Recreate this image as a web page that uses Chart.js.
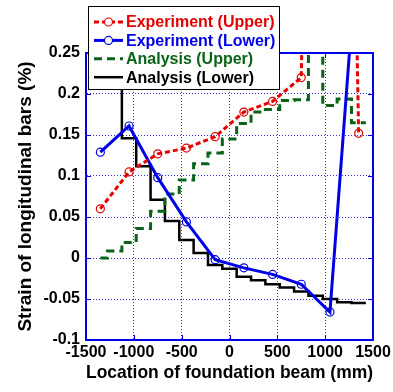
<!DOCTYPE html>
<html>
<head>
<meta charset="utf-8">
<script src="https://cdn.jsdelivr.net/npm/chart.js@4.4.0/dist/chart.umd.min.js"></script>
<style>
  body { margin: 0; background: #fff; }
</style>
</head>
<body>
<canvas id="myChart" width="393" height="392"></canvas>
<script>
// gauge positions (mm) and measured strains (%)
const expX = [-1350, -1050, -750, -450, -150, 150, 450, 750, 1050, 1350];
const expUpper = [0.060, 0.105, 0.127, 0.134, 0.148, 0.178, 0.191, 0.220, 2.0, 0.152];
const expLower = [0.129, 0.161, 0.098, 0.044, -0.002, -0.012, -0.020, -0.032, -0.066, 0.40];

// analysis: element edges (mm), one level per element (last one repeated at the end edge)
const anaX = [-1350, -1275, -1125, -975, -825, -675, -525, -375, -225, -75, 75, 225, 375, 525, 675, 825, 975, 1125, 1275, 1425];
const anaUpper = [0.000, 0.0085, 0.019, 0.036, 0.057, 0.078, 0.095, 0.115, 0.128, 0.145, 0.164, 0.178, 0.181, 0.192, 0.193, 0.32, 0.186, 0.194, 0.165, 0.165];
const anaLower = [0.30, 0.30, 0.146, 0.112, 0.071, 0.045, 0.022, 0.006, -0.0085, -0.013, -0.023, -0.027, -0.032, -0.036, -0.041, -0.046, -0.050, -0.054, -0.055, -0.055];

const xTicks = [-1500, -1000, -500, 0, 500, 1000, 1500];
const yTicks = [-0.1, -0.05, 0, 0.05, 0.1, 0.15, 0.2, 0.25];

const names = ["Experiment (Upper)", "Experiment (Lower)", "Analysis (Upper)", "Analysis (Lower)"];

const FONT = '"Liberation Sans", Arial, sans-serif';
const AXIS_BLUE = '#0000e8';

function pts(xs, ys) {
  return xs.map((x, i) => ({ x: x, y: ys[i] }));
}

// top/right frame and the short inward tick marks
const frame = {
  id: 'frame',
  beforeDatasetsDraw(chart) {
    const { ctx, chartArea: a, scales } = chart;
    ctx.save();
    ctx.strokeStyle = AXIS_BLUE;
    ctx.lineWidth = 2;
    ctx.beginPath();
    ctx.moveTo(a.left, a.top); ctx.lineTo(a.right, a.top); ctx.lineTo(a.right, a.bottom);
    ctx.stroke();
    ctx.lineWidth = 1;
    ctx.beginPath();
    yTicks.forEach(v => {
      const y = Math.round(scales.y.getPixelForValue(v)) + 0.5;
      ctx.moveTo(a.left, y); ctx.lineTo(a.left + 5, y);
      ctx.moveTo(a.right, y); ctx.lineTo(a.right - 5, y);
    });
    xTicks.forEach(v => {
      const x = Math.round(scales.x.getPixelForValue(v)) + 0.5;
      ctx.moveTo(x, a.bottom); ctx.lineTo(x, a.bottom - 5);
      ctx.moveTo(x, a.top); ctx.lineTo(x, a.top + 5);
    });
    ctx.stroke();
    ctx.restore();
  }
};

// boxed legend sitting over the top-left of the plot
const boxLegend = {
  id: 'boxLegend',
  afterDraw(chart) {
    const ctx = chart.ctx;
    ctx.save();
    ctx.fillStyle = '#fff';
    ctx.fillRect(88.5, 6.5, 191, 83);
    ctx.strokeStyle = '#000';
    ctx.lineWidth = 1;
    ctx.strokeRect(88.5, 6.5, 191, 83);
    ctx.font = 'bold 16px ' + FONT;
    ctx.textBaseline = 'middle';
    chart.data.datasets.forEach((ds, i) => {
      const y = 22 + i * 18.4;
      ctx.strokeStyle = ds.borderColor;
      ctx.lineWidth = ds.borderWidth;
      ctx.setLineDash(ds.borderDash || []);
      ctx.beginPath();
      ctx.moveTo(94, y); ctx.lineTo(123, y);
      ctx.stroke();
      ctx.setLineDash([]);
      if (ds.pointRadius) {
        ctx.fillStyle = '#fff';
        ctx.lineWidth = 1.2;
        ctx.beginPath();
        ctx.arc(108.5, y, ds.pointRadius, 0, Math.PI * 2);
        ctx.fill();
        ctx.stroke();
      }
      ctx.fillStyle = ds.borderColor;
      ctx.fillText(ds.label, 126, y + 1);
    });
    ctx.restore();
  }
};

onload = function () {
  new Chart("myChart", {
    type: "line",
    data: {
      datasets: [{
        label: names[0],
        data: pts(expX, expUpper),
        borderColor: '#e60000',
        borderWidth: 3,
        borderDash: [5, 3],
        pointRadius: 4,
        pointBorderWidth: 1.2,
        pointBackgroundColor: 'rgba(0,0,0,0)',
        pointBorderColor: '#e60000'
      }, {
        label: names[1],
        data: pts(expX, expLower),
        borderColor: '#0000e6',
        borderWidth: 3,
        pointRadius: 4,
        pointBorderWidth: 1.2,
        pointBackgroundColor: 'rgba(0,0,0,0)',
        pointBorderColor: '#0000e6'
      }, {
        label: names[2],
        data: pts(anaX, anaUpper),
        borderColor: '#0a6418',
        borderWidth: 3,
        borderDash: [8, 5],
        stepped: 'before',
        pointRadius: 0
      }, {
        label: names[3],
        data: pts(anaX, anaLower),
        borderColor: '#000',
        borderWidth: 2.5,
        stepped: 'before',
        pointRadius: 0
      }]
    },
    options: {
      responsive: false,
      animation: false,
      layout: { padding: { top: 53, right: 20, left: 0, bottom: 0 } },
      plugins: { legend: { display: false }, tooltip: { enabled: false } },
      scales: {
        x: {
          type: 'linear', min: -1500, max: 1500,
          afterBuildTicks: s => { s.ticks = xTicks.map(v => ({ value: v })); },
          afterFit: s => { s.height = 52; s.paddingLeft = 0; s.paddingRight = 0; },
          grid: { color: 'rgba(30,30,225,0.9)', lineWidth: 1, drawTicks: false },
          border: { color: AXIS_BLUE, width: 2, dash: [1, 2] },
          ticks: {
            color: '#000', padding: 3, maxRotation: 0, autoSkip: false,
            font: { family: FONT, size: 16, weight: 'bold' },
            callback: v => String(v)
          },
          title: {
            display: true, text: 'Location of foundation beam (mm)', color: '#000',
            font: { family: FONT, size: 19, weight: 'bold' },
            padding: { top: 0, bottom: 8 }
          }
        },
        y: {
          type: 'linear', min: -0.1, max: 0.25,
          afterBuildTicks: s => { s.ticks = yTicks.map(v => ({ value: v })); },
          afterFit: s => { s.width = 86; },
          grid: { color: 'rgba(30,30,225,0.9)', lineWidth: 1, drawTicks: false },
          border: { color: AXIS_BLUE, width: 2, dash: [1, 2] },
          ticks: {
            color: '#000', padding: 6,
            font: { family: FONT, size: 16, weight: 'bold' },
            callback: v => String(v)
          },
          title: {
            display: true, text: 'Strain of longitudinal bars (%)', color: '#000',
            font: { family: FONT, size: 19, weight: 'bold' },
            padding: { top: 14, bottom: 0 }
          }
        }
      }
    },
    plugins: [frame, boxLegend]
  });
};
</script>
</body>
</html>
